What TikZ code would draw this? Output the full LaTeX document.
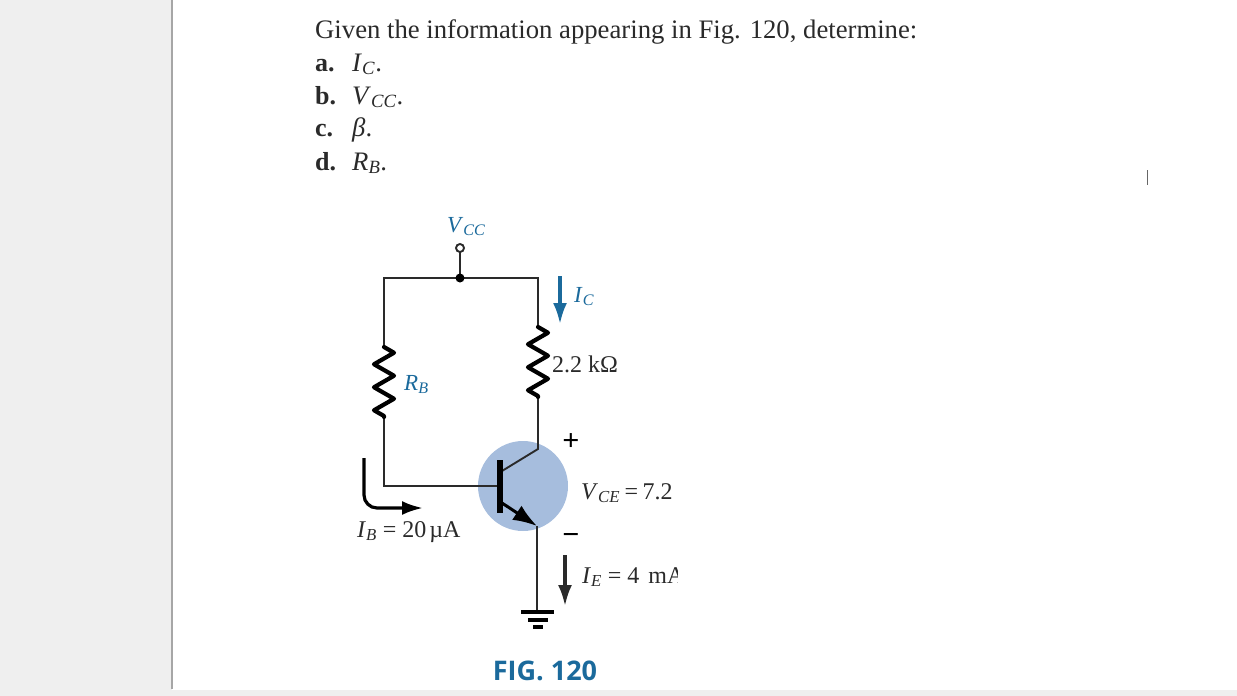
\documentclass[tikz,border=0pt]{standalone}
\usepackage{fontspec}
\setmainfont{Liberation Serif}
\setsansfont{Open Sans}
\usetikzlibrary{arrows.meta,decorations.pathmorphing}
\definecolor{figblue}{HTML}{1B6A9C}
\definecolor{bjtblue}{HTML}{A6BDDD}
\definecolor{inkdark}{HTML}{2A2A2A}
\definecolor{panelgray}{HTML}{EFEFEF}
\newcommand{\symb}[2]{\textit{#1}\textsubscript{\textit{#2}}}
\tikzset{
  wire/.style={draw=inkdark, line width=1.9pt},
  resistor/.style={draw=black, line width=4.2pt, line join=round, line cap=round,
    decorate, decoration={zigzag, segment length=23pt, amplitude=10pt}},
  flow/.style={line width=3.2pt, -{Latex[length=21pt,width=14pt]}},
  linetext/.style={anchor=base west, inner sep=0pt, text=inkdark, font=\fontsize{26.7}{30}\selectfont},
  itemlabel/.style={linetext, font=\fontsize{26}{30}\selectfont\bfseries},
  blueval/.style={anchor=base west, inner sep=0pt, text=figblue, font=\fontsize{23}{27}\selectfont},
  value/.style={anchor=base west, inner sep=0pt, text=inkdark, font=\fontsize{24}{28}\selectfont},
  polarity/.style={inner sep=0pt, text=black, font=\fontsize{30}{30}\selectfont\bfseries}
}
\begin{document}
\begin{tikzpicture}[x=1pt, y=-1pt]
    \useasboundingbox (0,0) rectangle (1237,696);

    % --- Page ---
    \fill[panelgray] (0,0) rectangle (172,696);
    \fill[panelgray] (0,690) rectangle (1237,696);
    \draw[gray!70, line width=1.2pt] (172,0) -- (172,689);
    \draw[gray!80!black, line width=1pt] (1147,170) -- (1147,185);

    % --- Question ---
    \node[linetext] (title) at (315,38) {Given the information appearing in Fig. 120, determine:};
    \node[itemlabel] (ia) at (315,71) {a.};
    \node[linetext] (ta) at (352,71) {\symb{I}{C}.};
    \node[itemlabel] (ib) at (315,104) {b.};
    \node[linetext] (tb) at (352,104) {\symb{V}{CC}.};
    \node[itemlabel] (ic) at (315,136) {c.};
    \node[linetext] (tc) at (352,136) {\textit{β}.};
    \node[itemlabel] (id) at (315,170) {d.};
    \node[linetext] (td) at (352,170) {\symb{R}{B}.};

    % --- Coordinates ---
    \coordinate (vcc) at (460,248);
    \coordinate (top) at (460,278);
    \coordinate (tl) at (384,278);
    \coordinate (tr) at (538,278);
    \coordinate (rbt) at (384,347);
    \coordinate (rbb) at (384,417);
    \coordinate (rct) at (538,327);
    \coordinate (rcb) at (538,397);
    \coordinate (bl) at (384,486);
    \coordinate (base) at (500,486);
    \coordinate (cin) at (502,471);
    \coordinate (cout) at (538,449);
    \coordinate (ein) at (502,503);
    \coordinate (eout) at (537,526);
    \coordinate (gnd) at (537,612);

    % transistor disc goes first, wires run over it
    \fill[bjtblue] (523,486) circle (45);

    % --- Wires ---
    \draw[wire] (vcc) -- (top);
    \draw[wire] (rbt) -- (tl) -- (tr) -- (rct);
    \draw[wire] (rbb) -- (bl) -- (base);
    \draw[wire] (rcb) -- (cout) -- (cin);
    \draw[wire] (eout) -- (gnd);
    \draw[resistor] (rbt) -- (rbb);
    \draw[resistor] (rct) -- (rcb);
    \fill[black] (top) circle (4.5);
    \filldraw[fill=white, draw=inkdark, line width=1.9pt] (vcc) circle (4);

    % --- Transistor ---
    \draw[black, line width=6.5pt] (500,460) -- (500,513);
    \draw[black, line width=3pt, -{Latex[length=24pt,width=17pt]}] (ein) -- (eout);

    % --- Ground ---
    \draw[black, line width=4pt] (521,612) -- (554,612);
    \draw[black, line width=4pt] (528,620) -- (548,620);
    \draw[black, line width=4pt] (533,627) -- (543,627);

    % --- Currents ---
    \draw[flow, figblue] (560,276) -- (560,324);
    \draw[flow, black, rounded corners=13pt] (364,458) -- (364,508) -- (423,508);
    \draw[flow, inkdark] (565,555) -- (565,606);

    % --- Labels ---
    \node[blueval] (lvcc) at (447,232) {\symb{V}{CC}};
    \node[blueval] (lic) at (574,302) {\symb{I}{C}};
    \node[blueval] (lrb) at (404,390) {\symb{R}{B}};
    \node[value] (lrc) at (552,372) {2.2 kΩ};
    \node[polarity] (lplus) at (571,442) {+};
    \node[polarity] (lminus) at (571,539) {−};
    \node[value] (lvce) at (581,499) {\symb{V}{CE}\hspace{4.5pt}=\hspace{4.5pt}7.2};
    \node[value] (lib) at (357,537) {\symb{I}{B} = 20\hspace{3pt}µA};
    \begin{scope}
        \clip (575,550) rectangle (677,600);
        \node[value] (lie) at (582,583) {\symb{I}{E} = 4\hspace{9pt}mA};
    \end{scope}
    \node[anchor=base, inner sep=0pt, text=figblue, font=\fontsize{27}{30}\selectfont\sffamily\bfseries] (fig) at (545,680) {FIG. 120};
\end{tikzpicture}
\end{document}
